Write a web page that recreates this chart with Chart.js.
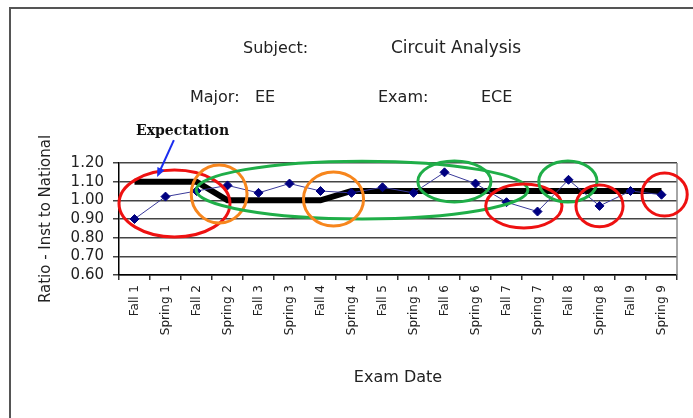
<!DOCTYPE html>
<html>
<head>
<meta charset="utf-8">
<script src="https://cdn.jsdelivr.net/npm/chart.js@4"></script>
<style>
  html, body { margin: 0; padding: 0; background: #fff; overflow: hidden; }
  #wrap { position: relative; width: 693px; height: 418px; overflow: hidden; }
  canvas { position: absolute; left: 0; top: 0; }
  .t { position: absolute; font-family: "DejaVu Sans", sans-serif; color: #222; white-space: nowrap; line-height: 20px; }
  #expect { position: absolute; font-family: "DejaVu Serif", serif; font-weight: bold; font-size: 14px;
            color: #111; line-height: 18px; }
</style>
</head>
<body>
<div id="wrap">
  <canvas id="chart" width="693" height="418"></canvas>
  <div class="t" style="left:243px; top:38px; font-size:16px;">Subject:</div>
  <div class="t" style="left:391px; top:37px; font-size:17px;">Circuit Analysis</div>
  <div class="t" style="left:190px; top:87px; font-size:16px;">Major:</div>
  <div class="t" style="left:255px; top:87px; font-size:16px;">EE</div>
  <div class="t" style="left:378px; top:87px; font-size:16px;">Exam:</div>
  <div class="t" style="left:481px; top:87px; font-size:16px;">ECE</div>
  <div id="expect" style="left:136px; top:121px;">Expectation</div>
</div>
<script>
const examDates = ['Fall 1', 'Spring 1', 'Fall 2', 'Spring 2', 'Fall 3', 'Spring 3', 'Fall 4', 'Spring 4', 'Fall 5',
                   'Spring 5', 'Fall 6', 'Spring 6', 'Fall 7', 'Spring 7', 'Fall 8', 'Spring 8', 'Fall 9', 'Spring 9'];
const ratio = [0.90, 1.02, 1.05, 1.08, 1.04, 1.09, 1.05, 1.04, 1.07,
               1.04, 1.15, 1.09, 0.99, 0.94, 1.11, 0.97, 1.05, 1.03];
const expectation = [1.10, 1.10, 1.10, 1.00, 1.00, 1.00, 1.00, 1.05, 1.05,
                     1.05, 1.05, 1.05, 1.05, 1.05, 1.05, 1.05, 1.05, 1.05];
const yTicks = [0.6, 0.7, 0.8, 0.9, 1.0, 1.1, 1.2];

// hand-drawn highlight rings, in category index / ratio units
const rings = [
  { x: 1.29, y: 0.983, rx: 1.79, ry: 0.179, color: '#ee1111' },
  { x: 2.73, y: 1.034, rx: 0.90, ry: 0.155, color: '#f7861d' },
  { x: 7.34, y: 1.055, rx: 5.35, ry: 0.155, color: '#1fae48' },
  { x: 6.42, y: 1.007, rx: 0.97, ry: 0.145, color: '#f7861d' },
  { x: 10.32, y: 1.101, rx: 1.18, ry: 0.110, color: '#1fae48' },
  { x: 12.56, y: 0.970, rx: 1.23, ry: 0.118, color: '#ee1111' },
  { x: 13.98, y: 1.101, rx: 0.94, ry: 0.110, color: '#1fae48' },
  { x: 15.00, y: 0.970, rx: 0.76, ry: 0.112, color: '#ee1111' },
  { x: 17.10, y: 1.031, rx: 0.73, ry: 0.115, color: '#ee1111' }
];
const arrow = { from: [1.27, 1.323], to: [0.73, 1.125] };

const overlay = {
  id: 'overlay',
  beforeDraw(chart) {
    // page frame: only the top and left edges are in view
    const ctx = chart.ctx;
    ctx.save();
    ctx.strokeStyle = '#555';
    ctx.lineWidth = 2;
    ctx.beginPath();
    ctx.moveTo(10, chart.height);
    ctx.lineTo(10, 8);
    ctx.lineTo(chart.width, 8);
    ctx.stroke();
    ctx.restore();
  },
  afterDraw(chart) {
    const { ctx, chartArea: a, scales: { x, y } } = chart;
    const px = v => x.getPixelForValue(0) + v * (x.getPixelForValue(1) - x.getPixelForValue(0));
    ctx.save();
    // right edge of plot
    ctx.strokeStyle = '#888';
    ctx.lineWidth = 1.5;
    ctx.beginPath();
    ctx.moveTo(a.right, a.top);
    ctx.lineTo(a.right, a.bottom);
    ctx.stroke();

    ctx.lineWidth = 3;
    rings.forEach(r => {
      const cx = px(r.x), cy = y.getPixelForValue(r.y);
      const rx = px(r.x + r.rx) - cx;
      const ry = cy - y.getPixelForValue(r.y + r.ry);
      ctx.strokeStyle = r.color;
      ctx.beginPath();
      ctx.ellipse(cx, cy, rx, ry, 0, 0, Math.PI * 2);
      ctx.stroke();
    });

    // arrow to the expectation line
    const x1 = px(arrow.from[0]), y1 = y.getPixelForValue(arrow.from[1]);
    const x2 = px(arrow.to[0]), y2 = y.getPixelForValue(arrow.to[1]);
    const ang = Math.atan2(y2 - y1, x2 - x1);
    ctx.strokeStyle = '#1a2cf0';
    ctx.fillStyle = '#1a2cf0';
    ctx.lineWidth = 2;
    ctx.beginPath();
    ctx.moveTo(x1, y1);
    ctx.lineTo(x2 - 6 * Math.cos(ang), y2 - 6 * Math.sin(ang));
    ctx.stroke();
    ctx.beginPath();
    ctx.moveTo(x2, y2);
    ctx.lineTo(x2 - 10 * Math.cos(ang - 0.4), y2 - 10 * Math.sin(ang - 0.4));
    ctx.lineTo(x2 - 10 * Math.cos(ang + 0.4), y2 - 10 * Math.sin(ang + 0.4));
    ctx.closePath();
    ctx.fill();
    ctx.restore();
  }
};

new Chart(document.getElementById('chart'), {
  type: 'line',
  data: {
    labels: examDates,
    datasets: [{
      label: 'Ratio',
      data: ratio,
      borderColor: '#3a3a9a',
      borderWidth: 1,
      pointStyle: 'rectRot',
      pointRadius: 4.5,
      pointBackgroundColor: '#000080',
      pointBorderColor: '#000080',
      tension: 0,
      order: 0
    }, {
      label: 'Expectation',
      data: expectation,
      borderColor: '#000',
      borderWidth: 6,
      pointRadius: 0,
      tension: 0,
      order: 1
    }]
  },
  options: {
    responsive: false,
    animation: false,
    layout: { padding: { top: 163, right: 16, left: 0, bottom: 0 } },
    plugins: { legend: { display: false }, tooltip: { enabled: false } },
    scales: {
      x: {
        offset: true,
        afterFit: s => { s.height = 143; },
        grid: { offset: true, drawOnChartArea: false, tickLength: 5, color: '#333', lineWidth: 1.5 },
        border: { color: '#000', width: 1.5 },
        ticks: {
          autoSkip: false, minRotation: 90, maxRotation: 90, padding: 5,
          color: '#222', font: { family: 'DejaVu Sans', size: 12 }
        },
        title: {
          display: true, text: 'Exam Date', color: '#222',
          font: { family: 'DejaVu Sans', size: 16 }, padding: { top: 0, bottom: 31 }
        }
      },
      y: {
        min: 0.6,
        max: 1.2,
        afterFit: s => { s.width = 119; },
        afterBuildTicks: s => { s.ticks = yTicks.map(v => ({ value: v })); },
        grid: { color: '#444', lineWidth: 1.5, tickLength: 6 },
        border: { color: '#000', width: 1.5 },
        ticks: {
          autoSkip: false, padding: 9, color: '#222', font: { family: 'DejaVu Sans', size: 15 },
          callback: v => Number(v).toFixed(2)
        },
        title: {
          display: true, text: 'Ratio - Inst to National', color: '#222',
          font: { family: 'DejaVu Sans', size: 15 }, padding: { top: 37, bottom: 0 }
        }
      }
    }
  },
  plugins: [overlay]
});
</script>
</body>
</html>
